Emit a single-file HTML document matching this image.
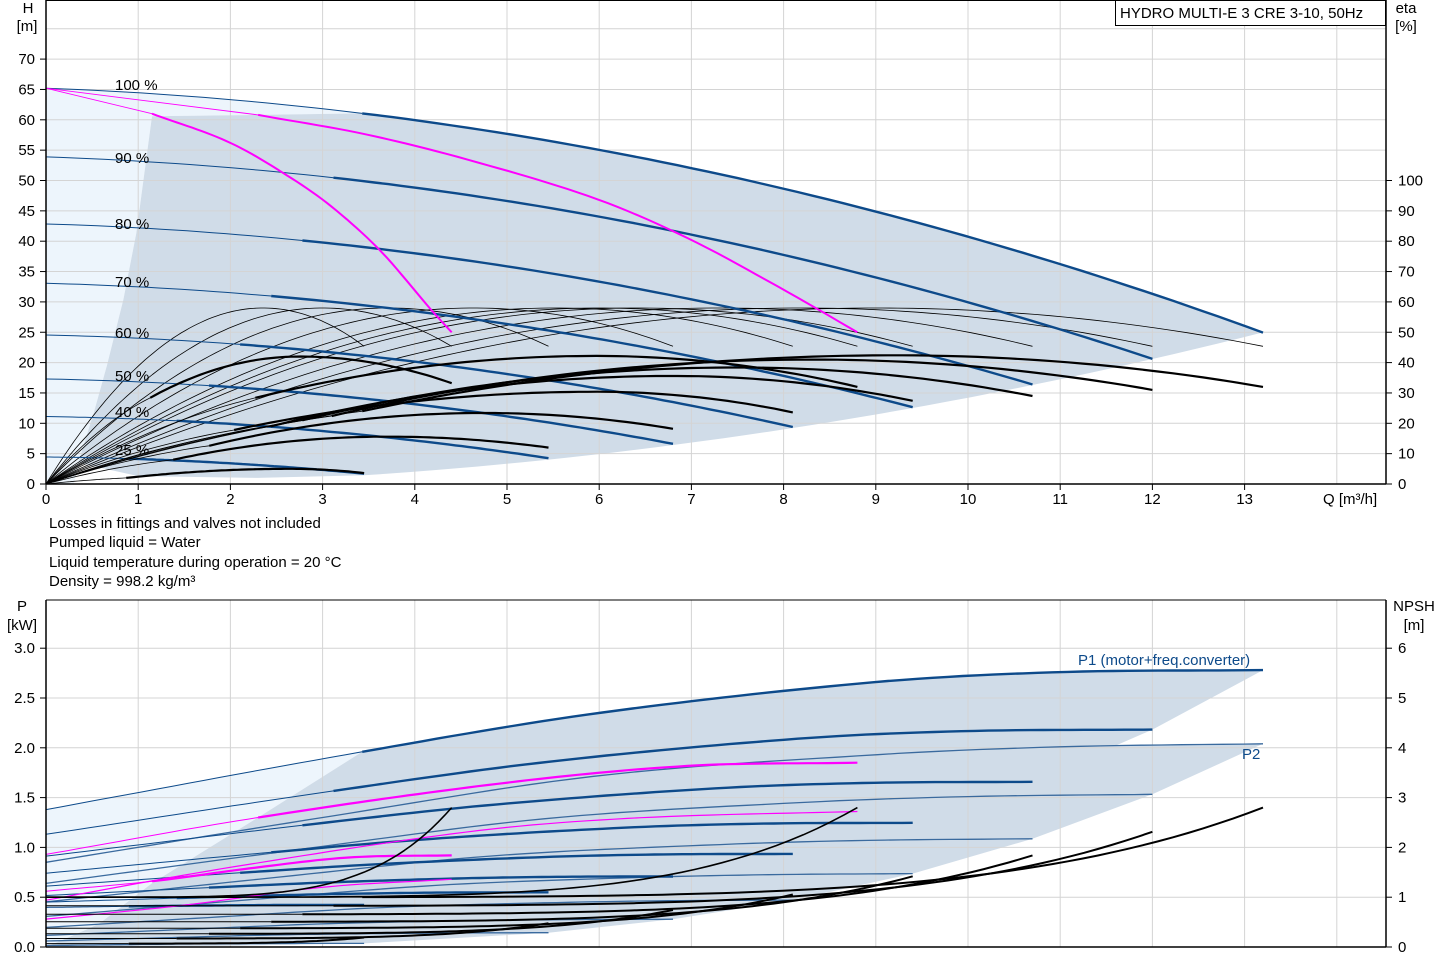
<!DOCTYPE html>
<html><head><meta charset="utf-8"><style>
html,body{margin:0;padding:0;background:#fff;}
svg{display:block;font-family:"Liberation Sans",Arial,sans-serif;}
</style></head><body>
<svg id="s" width="1445" height="970" viewBox="0 0 1445 970" xmlns="http://www.w3.org/2000/svg"></svg>
<script>
const S=document.getElementById('s');
const NS='http://www.w3.org/2000/svg';
function el(t,a,txt){const e=document.createElementNS(NS,t);for(const k in a)e.setAttribute(k,a[k]);if(txt!==undefined)e.textContent=txt;S.appendChild(e);return e;}
const X=q=>46+92.2*q, YT=h=>484-6.07*h, YB=p=>947-99.6*p;
function cr(pts){
  return function(x){
    let i=0; while(i<pts.length-2 && x>pts[i+1][0]) i++;
    const p0=pts[Math.max(i-1,0)],p1=pts[i],p2=pts[i+1],p3=pts[Math.min(i+2,pts.length-1)];
    const t=(x-p1[0])/(p2[0]-p1[0]);
    const m1=(p2[1]-p0[1])/(p2[0]-p0[0])*(p2[0]-p1[0]);
    const m2=(p3[1]-p1[1])/(p3[0]-p1[0])*(p2[0]-p1[0]);
    const t2=t*t,t3=t2*t;
    return (2*t3-3*t2+1)*p1[1]+(t3-2*t2+t)*m1+(-2*t3+3*t2)*p2[1]+(t3-t2)*m2;
  };
}
function samp(f,a,b,Y,n){n=n||60;const r=[];for(let i=0;i<=n;i++){const q=a+(b-a)*i/n;r.push([X(q),Y(f(q))]);}return r;}
function line(pts,col,w){el('polyline',{points:pts.map(p=>p[0].toFixed(1)+','+p[1].toFixed(1)).join(' '),fill:'none',stroke:col,'stroke-width':w,'stroke-linejoin':'round'});}
function poly(pts,col){el('polygon',{points:pts.map(p=>p[0].toFixed(1)+','+p[1].toFixed(1)).join(' '),fill:col,stroke:'none'});}
const LIGHT='#edf5fc', DARK='#d0dce8', BLUE='#0d4a8a', PINK='#ff00ff', GRID='#d4d4d4';

// ---------- TOP CHART ----------
const H100=q=>65.2-0.56*q-0.1886*q*q;
const Hs=(s,q)=>s*s*65.2-0.56*s*q-0.1886*q*q;
let lp=samp(H100,0,3.43,YT,30);
lp=lp.concat([[X(2.3),YT(60.8)],[X(1.15),YT(60.6)],[X(0.98),YT(41.4)],[X(0.84),YT(30.4)],[X(0.66),YT(19.5)],[X(0.52),YT(11.8)],[X(0.4),YT(5)],[X(0.3),YT(0)],[X(0),YT(0)]]);
poly(lp,LIGHT);
let dp=samp(H100,3.43,13.2,YT,60);
dp=dp.concat(samp(q=>0.145*q*q-0.29,13.2,3.45,YT,40));
dp=dp.concat([[X(2.3),YT(1.0)],[X(1),YT(1.3)],[X(0.35),YT(3.5)],[X(0.52),YT(11.8)],[X(0.66),YT(19.5)],[X(0.84),YT(30.4)],[X(0.98),YT(41.4)],[X(1.15),YT(60.6)],[X(2.3),YT(60.8)]]);
poly(dp,DARK);
for(let h=5;h<=75;h+=5) el('line',{x1:46,x2:1386,y1:YT(h),y2:YT(h),stroke:GRID,'stroke-width':1});
for(let q=1;q<=14;q++) el('line',{x1:X(q),x2:X(q),y1:0,y2:484,stroke:GRID,'stroke-width':1});
const ends=[13.2,12,10.7,9.4,8.1,6.8,5.45,3.45];
[...ends,8.8,4.4].forEach(Qe=>{const s=Qe/13.2;line(samp(q=>{const x=q/s;return 29*(1-(1-x/9)*(1-x/9));},0,Qe,YT,80),'#000',0.8);});
ends.forEach(Qe=>{const s=Qe/13.2;const st=s*3.43;
  line(samp(q=>Hs(s,q),0,st,YT,20),BLUE,1);
  line(samp(q=>Hs(s,q),st,Qe,YT,60),BLUE,2.4);});
line([[X(0),YT(65.2)],[X(2.3),YT(60.8)]],PINK,0.9);
line([[X(0),YT(65.2)],[X(1.15),YT(61)]],PINK,0.9);
const pA=cr([[2.3,60.8],[3.5,57.5],[4.7,52.9],[6,46.8],[7,40.2],[8,32],[8.8,25]]);
line(samp(pA,2.3,8.8,YT,60),PINK,2);
const pB=cr([[1.15,61],[2,56.2],[2.69,50.1],[3.13,45.3],[3.64,38.2],[4.2,28.3],[4.4,25]]);
line(samp(pB,1.15,4.4,YT,60),PINK,2);
// thick black eta curves: [Qe, Qs, Hs, Qp, Hp, He]
[[3.45,0.87,1.0,2.65,2.5,1.8],[5.45,1.38,4.0,3.7,7.8,6.0],[6.8,1.77,6.3,4.74,11.7,9.1],[8.1,2.04,8.9,5.97,15.2,11.8],
 [4.4,1.13,14.2,2.75,21.0,16.6],[8.8,2.27,14.2,5.97,21.1,16.0],[9.4,2.44,9.5,6.8,17.8,13.7],[10.7,2.78,10.5,7.5,19.2,14.5],
 [12,3.1,11.2,8.3,20.5,15.5],[13.2,3.43,12,9.2,21.2,16.0]].forEach(([Qe,Qs,Hst,Qp,Hp,He])=>{
  const k1=(Hp-Hst)/((Qp-Qs)*(Qp-Qs)), k2=(Hp-He)/((Qe-Qp)*(Qe-Qp));
  const f=q=>q<Qp?Hp-k1*(q-Qp)*(q-Qp):Hp-k2*(q-Qp)*(q-Qp);
  line(samp(q=>{const t=q/Qs;return Hst*t*(1.4-0.4*t);},0,Qs,YT,20),'#000',0.8);
  line(samp(f,Qs,Qe,YT,60),'#000',2.2);});
el('line',{x1:46,x2:46,y1:0,y2:484,stroke:'#000','stroke-width':1.5});
el('line',{x1:1386,x2:1386,y1:0,y2:484,stroke:'#000','stroke-width':1.5});
el('line',{x1:46,x2:1386,y1:484,y2:484,stroke:'#000','stroke-width':1.5});
el('line',{x1:46,x2:1386,y1:0.5,y2:0.5,stroke:'#000','stroke-width':1});
for(let h=0;h<=70;h+=5){const y=YT(h);el('line',{x1:40,x2:46,y1:y,y2:y,stroke:'#000'});el('text',{x:35,y:y+5,'text-anchor':'end','font-size':15},String(h));}
for(let e=0;e<=100;e+=10){const y=YT(e/2);el('line',{x1:1386,x2:1392,y1:y,y2:y,stroke:'#000'});el('text',{x:1398,y:y+5,'font-size':15},String(e));}
for(let q=0;q<=13;q++){el('line',{x1:X(q),x2:X(q),y1:484,y2:490,stroke:'#000'});el('text',{x:X(q),y:504,'text-anchor':'middle','font-size':15},String(q));}
el('text',{x:1323,y:504,'font-size':15},'Q [m³/h]');
el('text',{x:28,y:13,'text-anchor':'middle','font-size':15},'H');
el('text',{x:27,y:31,'text-anchor':'middle','font-size':15},'[m]');
el('text',{x:1406,y:13,'text-anchor':'middle','font-size':15},'eta');
el('text',{x:1406,y:31,'text-anchor':'middle','font-size':15},'[%]');
el('rect',{x:1115.5,y:0.5,width:270,height:25,fill:'#fff',stroke:'#000','stroke-width':1});
el('text',{x:1120,y:18,'font-size':15},'HYDRO MULTI-E 3 CRE 3-10, 50Hz');
[['100 %',90],['90 %',163],['80 %',229],['70 %',287],['60 %',338],['50 %',381],['40 %',417],['25 %',455]].forEach(([t,y])=>el('text',{x:115,y:y,'font-size':15},t));
[['Losses in fittings and valves not included',528],['Pumped liquid = Water',547],['Liquid temperature during operation = 20 °C',567],['Density = 998.2 kg/m³',586]].forEach(([t,y])=>el('text',{x:49,y:y,'font-size':15},t));

// ---------- BOTTOM CHART ----------
const P1c=cr([[0,1.38],[3.43,1.96],[6,2.35],[9,2.66],[11,2.76],[13.2,2.78]]);
const P2c=cr([[0,0.85],[3,1.3],[6,1.72],[9,1.93],[11,2.01],[13.2,2.04]]);
const P1s=(s,q)=>s*s*s*(P1c(q/s)-0.38)+0.38;
const P2s=(s,q)=>s*s*s*P2c(q/s);
const N=q=>0.5+0.9*Math.pow(q/13.2,5.24);
let bl=samp(P1c,0,3.43,YB,30).concat([[X(2.3),YB(1.3)],[X(1.15),YB(0.64)],[X(0.6),YB(0.25)],[X(0.2),YB(0.05)],[X(0),YB(0.02)]]);
poly(bl,LIGHT);
let da=samp(P1c,3.43,13.2,YB,60);
ends.forEach(Qe=>{const s=Qe/13.2;da.push([X(Qe),YB(P1s(s,Qe))]);});
da=da.concat([[X(3.45),YB(0.05)],[X(0.2),YB(0.05)],[X(0.6),YB(0.25)],[X(1.15),YB(0.64)],[X(2.3),YB(1.3)]]);
poly(da,DARK);
let db=[];
ends.forEach(Qe=>{const s=Qe/13.2;db.push([X(Qe),YB(P2s(s,Qe))]);});
db=db.concat([[X(2),YB(0.012)],[X(1),YB(0.004)],[X(0),YB(0)],[X(3.43),YB(P2c(3.43))]]);
db=db.concat(samp(P2c,3.43,13.2,YB,40));
poly(db,DARK);
for(let p=0.5;p<=3.01;p+=0.5) el('line',{x1:46,x2:1386,y1:YB(p),y2:YB(p),stroke:GRID,'stroke-width':1});
for(let q=1;q<=14;q++) el('line',{x1:X(q),x2:X(q),y1:600,y2:947,stroke:GRID,'stroke-width':1});
ends.forEach(Qe=>{const s=Qe/13.2;line(samp(q=>P2s(s,q),0,Qe,YB,60),'#3a6a9e',1.3);});
ends.forEach(Qe=>{const s=Qe/13.2;const st=s*3.43;
  line(samp(q=>P1s(s,q),0,st,YB,20),BLUE,1);
  line(samp(q=>P1s(s,q),st,Qe,YB,60),BLUE,2.4);});
const pa1=cr([[0,0.93],[2.3,1.3],[5,1.65],[7,1.82],[8.8,1.85]]);
line(samp(pa1,0,2.3,YB,20),PINK,1);line(samp(pa1,2.3,8.8,YB,60),PINK,2.2);
const pa2=cr([[0,0.47],[2,0.8],[4.7,1.17],[6.5,1.3],[8.8,1.36]]);
line(samp(pa2,0,8.8,YB,60),PINK,1.2);
const pb1=cr([[0,0.56],[1.15,0.66],[2.3,0.8],[3.3,0.9],[4.4,0.92]]);
line(samp(pb1,0,1.15,YB,20),PINK,1);line(samp(pb1,1.15,4.4,YB,40),PINK,2.2);
const pb2=cr([[0,0.28],[1.5,0.42],[3,0.6],[4.4,0.68]]);
line(samp(pb2,0,4.4,YB,40),PINK,1.2);
// NPSH
ends.forEach(Qe=>{const s=Qe/13.2;const st=s*3.43;
  line(samp(q=>s*s*N(q/s),0,st,YB,20),'#000',1);
  line(samp(q=>s*s*N(q/s),st,Qe,YB,60),'#000',2);});
[8.8,4.4].forEach(Qe=>{line(samp(q=>N(q*13.2/Qe),0,Qe,YB,60),'#000',1.6);});
el('line',{x1:46,x2:46,y1:600,y2:947,stroke:'#000','stroke-width':1.5});
el('line',{x1:1386,x2:1386,y1:600,y2:947,stroke:'#000','stroke-width':1.5});
el('line',{x1:46,x2:1386,y1:947,y2:947,stroke:'#000','stroke-width':1.5});
el('line',{x1:46,x2:1386,y1:600,y2:600,stroke:'#000','stroke-width':1});
for(let i=0;i<=6;i++){const p=i*0.5,y=YB(p);el('line',{x1:40,x2:46,y1:y,y2:y,stroke:'#000'});el('text',{x:35,y:y+5,'text-anchor':'end','font-size':15},p.toFixed(1));
 el('line',{x1:1386,x2:1392,y1:y,y2:y,stroke:'#000'});el('text',{x:1398,y:y+5,'font-size':15},String(i));}
el('text',{x:22,y:611,'text-anchor':'middle','font-size':15},'P');
el('text',{x:22,y:630,'text-anchor':'middle','font-size':15},'[kW]');
el('text',{x:1414,y:611,'text-anchor':'middle','font-size':15},'NPSH');
el('text',{x:1414,y:630,'text-anchor':'middle','font-size':15},'[m]');
el('text',{x:1078,y:665,'font-size':15,fill:BLUE},'P1 (motor+freq.converter)');
el('text',{x:1242,y:759,'font-size':15,fill:BLUE},'P2');
</script>
</body></html>
